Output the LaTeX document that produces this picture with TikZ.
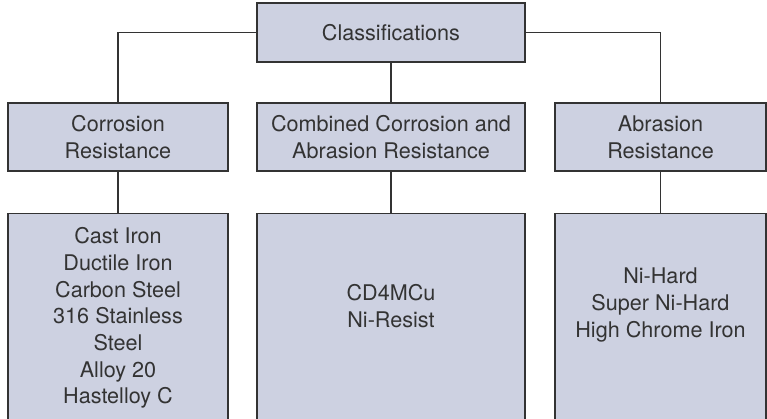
\documentclass[tikz,border=0pt]{standalone}
\usepackage{fontspec}
\setmainfont{TeX Gyre Heros}
\usepackage{tikz}
\definecolor{boxfill}{HTML}{CDD1E1}
\definecolor{boxline}{HTML}{333333}

\begin{document}
\begin{tikzpicture}[x=1pt, y=-1pt,
		every node/.style={font=\fontsize{21.6}{26.7}\selectfont, text=boxline},
		classbox/.style={fill=boxfill, draw=boxline, line width=1.2pt, minimum width=#1, align=center, inner sep=0pt},
		link/.style={draw=boxline, line width=1.2pt}]

		\clip (0,0) rectangle (767,418);

		\node[classbox=268pt, minimum height=59pt] (cls) at (391,32.5) {Classifications};

		\node[classbox=220pt, minimum height=68pt] (cor) at (118,137) {Corrosion\\Resistance};
		\node[classbox=268pt, minimum height=68pt] (comb) at (391,137) {Combined Corrosion and\\Abrasion Resistance};
		\node[classbox=211pt, minimum height=68pt] (abr) at (660.5,137) {Abrasion\\Resistance};

		\node[classbox=220pt, minimum height=240pt, anchor=north] (corlist) at (118,213) {};
		\node[classbox=268pt, minimum height=240pt, anchor=north] (comblist) at (391,213) {};
		\node[classbox=211pt, minimum height=240pt, anchor=north] (abrlist) at (660.5,213) {};

		\node[align=center] (cortext) at (118,318) {Cast Iron\\Ductile Iron\\Carbon Steel\\316 Stainless\\Steel\\Alloy 20\\Hastelloy C};
		\node[align=center] (combtext) at (391,306) {CD4MCu\\Ni-Resist};
		\node[align=center] (abrtext) at (660.5,305) {Ni-Hard\\Super Ni-Hard\\High Chrome Iron};

		\draw[link] (cls.west) -| (cor.north);
		\draw[link] (cls.south) -- (comb.north);
		\draw[link] (cls.east) -| (abr.north);

		\draw[link] (cor.south) -- (corlist.north);
		\draw[link] (comb.south) -- (comblist.north);
		\draw[link] (abr.south) -- (abrlist.north);
	\end{tikzpicture}
\end{document}
